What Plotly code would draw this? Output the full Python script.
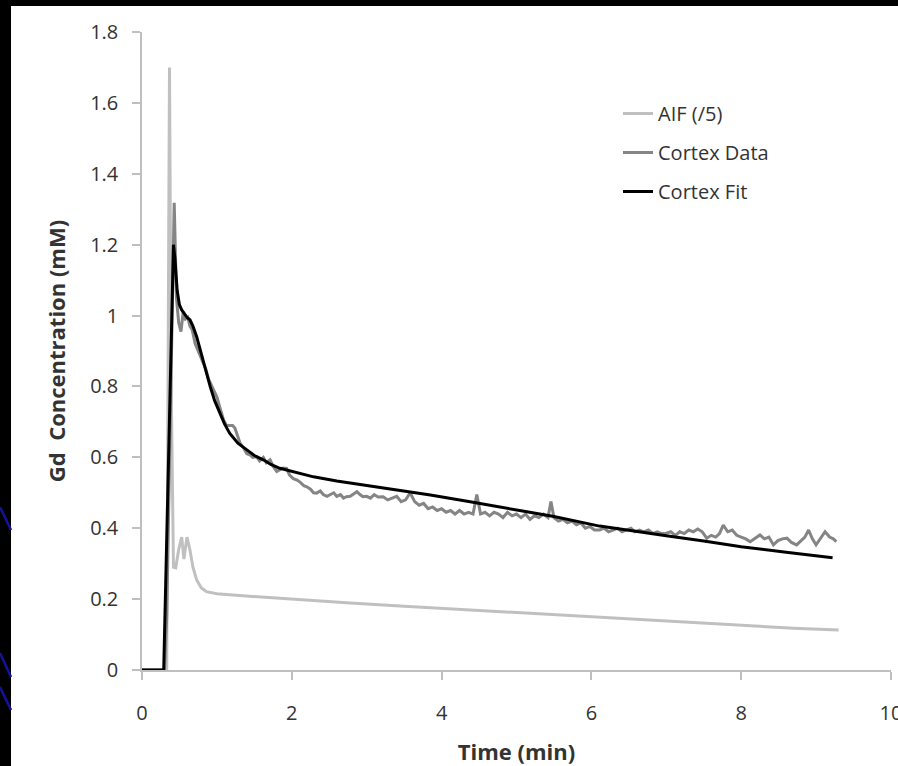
import plotly.graph_objects as go

# ---------------- data ----------------
aif_t = [0.00, 0.10, 0.20, 0.30, 0.33, 0.367, 0.39, 0.42, 0.45, 0.49, 0.53, 0.56, 0.60, 0.64,
         0.68, 0.73, 0.79, 0.86, 1.00, 1.17, 1.50, 2.11, 2.78, 3.50, 4.50, 5.50, 6.11,
         7.00, 8.00, 8.70, 9.30]
aif_c = [0.0, 0.0, 0.0, 0.0, 0.0, 1.70, 0.80, 0.29, 0.288, 0.34, 0.375, 0.313, 0.375, 0.339,
         0.29, 0.254, 0.232, 0.221, 0.215, 0.212, 0.207, 0.198, 0.189, 0.180, 0.168, 0.155, 0.147,
         0.137, 0.126, 0.118, 0.113]

data_t = [0.00, 0.10, 0.20, 0.30, 0.33, 0.37, 0.40, 0.43, 0.46, 0.49, 0.52, 0.55, 0.58, 0.61,
          0.64, 0.67, 0.71, 0.75, 0.80, 0.85, 0.89, 0.93, 0.97, 1.00, 1.04, 1.09, 1.13, 1.17,
          1.21, 1.24, 1.28, 1.31, 1.36, 1.40, 1.44, 1.48, 1.53, 1.57, 1.62, 1.66, 1.71, 1.75,
          1.80, 1.84, 1.88, 1.93, 1.97, 2.02, 2.07, 2.11, 2.16, 2.20, 2.25, 2.29, 2.33, 2.38,
          2.42, 2.47, 2.51, 2.56, 2.60, 2.65, 2.69, 2.73, 2.78, 2.82, 2.87, 2.91, 2.95, 3.00,
          3.05, 3.10, 3.15, 3.22, 3.28, 3.34, 3.40, 3.46, 3.52, 3.58, 3.64, 3.70, 3.76, 3.82,
          3.88, 3.94, 4.00, 4.06, 4.12, 4.18, 4.24, 4.30, 4.36, 4.42, 4.47, 4.52, 4.58, 4.64,
          4.70, 4.76, 4.82, 4.88, 4.94, 5.00, 5.06, 5.12, 5.18, 5.24, 5.30, 5.36, 5.42, 5.46,
          5.50, 5.56, 5.62, 5.68, 5.74, 5.80, 5.86, 5.92, 5.98, 6.04, 6.11, 6.17, 6.23, 6.29,
          6.35, 6.41, 6.47, 6.53, 6.58, 6.64, 6.70, 6.76, 6.82, 6.88, 6.94, 7.00, 7.06, 7.12,
          7.18, 7.24, 7.30, 7.36, 7.42, 7.48, 7.54, 7.60, 7.66, 7.71, 7.76, 7.82, 7.88, 7.94,
          8.00, 8.06, 8.12, 8.18, 8.25, 8.31, 8.37, 8.43, 8.49, 8.55, 8.61, 8.67, 8.74, 8.80,
          8.85, 8.90, 8.95, 9.00, 9.06, 9.12, 9.18, 9.23, 9.27]
data_c = [0.0, 0.0, 0.0, 0.0, 0.15, 0.60, 1.00, 1.318, 1.05, 0.98, 0.955, 1.01, 0.99, 0.995,
          0.97, 0.96, 0.92, 0.90, 0.875, 0.85, 0.82, 0.80, 0.78, 0.77, 0.74, 0.705, 0.69, 0.691,
          0.69, 0.683, 0.66, 0.64, 0.625, 0.61, 0.607, 0.60, 0.602, 0.59, 0.60, 0.585, 0.593, 0.575,
          0.56, 0.565, 0.57, 0.569, 0.55, 0.54, 0.536, 0.53, 0.52, 0.517, 0.51, 0.50, 0.499, 0.505,
          0.495, 0.49, 0.494, 0.50, 0.49, 0.495, 0.485, 0.489, 0.49, 0.495, 0.503, 0.495, 0.489, 0.49,
          0.485, 0.495, 0.488, 0.489, 0.48, 0.485, 0.49, 0.475, 0.48, 0.50, 0.475, 0.465, 0.47, 0.455,
          0.46, 0.45, 0.455, 0.445, 0.45, 0.44, 0.45, 0.44, 0.445, 0.44, 0.495, 0.44, 0.445, 0.435,
          0.445, 0.44, 0.43, 0.445, 0.435, 0.44, 0.43, 0.44, 0.425, 0.435, 0.43, 0.44, 0.43, 0.475,
          0.43, 0.42, 0.425, 0.415, 0.42, 0.41, 0.415, 0.40, 0.405, 0.395, 0.395, 0.40, 0.39, 0.395,
          0.40, 0.39, 0.395, 0.40, 0.39, 0.395, 0.39, 0.395, 0.385, 0.39, 0.385, 0.386, 0.39, 0.38,
          0.39, 0.385, 0.395, 0.39, 0.398, 0.39, 0.372, 0.38, 0.375, 0.385, 0.409, 0.39, 0.395, 0.38,
          0.375, 0.37, 0.362, 0.37, 0.381, 0.37, 0.375, 0.353, 0.365, 0.37, 0.372, 0.36, 0.353, 0.365,
          0.375, 0.395, 0.37, 0.353, 0.37, 0.39, 0.375, 0.37, 0.362]

fit_t = [0.00, 0.10, 0.20, 0.29, 0.42, 0.44, 0.47, 0.50, 0.53, 0.57, 0.60, 0.64, 0.68, 0.73,
         0.78, 0.82, 0.87, 0.91, 0.97, 1.04, 1.10, 1.17, 1.28, 1.40, 1.50, 1.62, 1.72, 1.84,
         2.00, 2.29, 2.60, 2.95, 3.40, 3.85, 4.40, 5.00, 5.50, 6.11, 6.60, 7.00, 7.50, 8.00,
         8.60, 9.22]
fit_c = [0.0, 0.0, 0.0, 0.0, 1.20, 1.16, 1.07, 1.03, 1.016, 1.005, 0.995, 0.988, 0.97, 0.94,
         0.90, 0.866, 0.83, 0.80, 0.76, 0.724, 0.695, 0.668, 0.64, 0.621, 0.605, 0.593, 0.58, 0.569,
         0.56, 0.545, 0.533, 0.522, 0.508, 0.494, 0.474, 0.452, 0.433, 0.406, 0.39, 0.379, 0.364, 0.348,
         0.332, 0.317]

series_names = ["AIF (/5)", "Cortex Data", "Cortex Fit"]
x_tick_vals = [0, 2, 4, 6, 8, 10]
x_tick_text = ["0", "2", "4", "6", "8", "10"]
y_tick_vals = [0, 0.2, 0.4, 0.6, 0.8, 1.0, 1.2, 1.4, 1.6, 1.8]
y_tick_text = ["0", "0.2", "0.4", "0.6", "0.8", "1", "1.2", "1.4", "1.6", "1.8"]

# ---------------- layout geometry ----------------
W, H = 898, 766
ML, MR, MT, MB = 142, 7, 32, 96
PW, PH = W - ML - MR, H - MT - MB


def px_u(px):
    return (px - ML) / PW


def py_v(py):
    return (H - MB - py) / PH


FONT = "Open Sans"
BLUE = "#12129a"
blue_marks = [((0, 507), (11, 530)), ((0, 653), (11, 677)), ((0, 687), (11, 710))]

fig = go.Figure()
fig.add_trace(go.Scatter(x=aif_t, y=aif_c, mode="lines", name=series_names[0],
                         line=dict(color="#c0c0c0", width=3), legendgroup="a"))
fig.add_trace(go.Scatter(x=data_t, y=data_c, mode="lines", name=series_names[1],
                         line=dict(color="#858585", width=3), legendgroup="b"))
fig.add_trace(go.Scatter(x=fit_t, y=fit_c, mode="lines", name=series_names[2],
                         line=dict(color="#000000", width=3), legendgroup="c"))

shapes = [
    # black slide border: left strip and top strip
    dict(type="rect", xref="paper", yref="paper", layer="above",
         x0=px_u(0), x1=px_u(11), y0=py_v(H + 2), y1=py_v(-2),
         fillcolor="black", line=dict(width=0)),
    dict(type="rect", xref="paper", yref="paper", layer="below",
         x0=px_u(0), x1=px_u(W), y0=py_v(6), y1=py_v(0),
         fillcolor="black", line=dict(width=0)),
]
for (a, b) in blue_marks:
    shapes.append(dict(type="line", xref="paper", yref="paper", layer="above",
                       x0=px_u(a[0]), y0=py_v(a[1]), x1=px_u(b[0]), y1=py_v(b[1]),
                       line=dict(color=BLUE, width=2.5)))

fig.update_layout(
    width=W, height=H,
    margin=dict(l=ML, r=MR, t=MT, b=MB, autoexpand=False),
    paper_bgcolor="white", plot_bgcolor="white",
    font=dict(family=FONT, size=20, color="#333333"),
    showlegend=True,
    legend=dict(x=px_u(618), y=py_v(94), xanchor="left", yanchor="top",
                bgcolor="rgba(0,0,0,0)", tracegroupgap=10,
                font=dict(family=FONT, size=20, color="#333333")),
    shapes=shapes,
    xaxis=dict(range=[0, 10], tickmode="array", tickvals=x_tick_vals, ticktext=x_tick_text,
               showgrid=False, zeroline=False, showline=True, linecolor="#bfbfbf", linewidth=1.5,
               ticks="outside", ticklen=8, tickcolor="#bfbfbf", tickwidth=1.5,
               ticklabelstandoff=16, ticklabeloverflow="allow", automargin=False,
               title=dict(text="<b>Time (min)</b>", font=dict(family=FONT, size=22, color="#333333"),
                          standoff=20)),
    yaxis=dict(range=[0, 1.8], tickmode="array", tickvals=y_tick_vals, ticktext=y_tick_text,
               showgrid=False, zeroline=False, showline=True, linecolor="#bfbfbf", linewidth=1.5,
               ticks="outside", ticklen=8, tickcolor="#bfbfbf", tickwidth=1.5,
               ticklabelstandoff=10, automargin=False,
               title=dict(text="<b>Gd  Concentration (mM)</b>",
                          font=dict(family=FONT, size=22, color="#333333"), standoff=18)),
)

# page setup: no body margin; the slide's left black edge (with its blue marks)
# is also pinned as a fixed strip so it is not lost under other page layers
svg_lines = "".join(
    '<line x1="%d" y1="%d" x2="%d" y2="%d" stroke="%s" stroke-width="2.5"/>'
    % (a[0], a[1], b[0], b[1], BLUE) for (a, b) in blue_marks
)
post_js = (
    "document.body.style.margin='0';document.body.style.overflow='hidden';"
    "var d=document.createElement('div');"
    "d.style.cssText='position:fixed;left:0;top:0;width:11px;height:%dpx;background:#000;"
    "z-index:100000;pointer-events:none';"
    "d.innerHTML='<svg xmlns=\"http://www.w3.org/2000/svg\" width=\"11\" height=\"%d\" "
    "style=\"display:block\">%s</svg>';"
    "document.body.appendChild(d);" % (H, H, svg_lines)
)

fig.write_html("out.html", config={"displayModeBar": False}, post_script=post_js)
